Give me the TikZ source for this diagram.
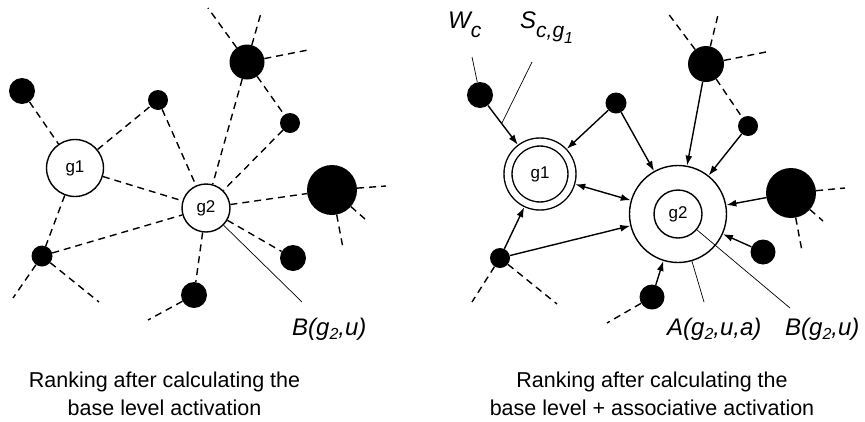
\documentclass[tikz,border=0pt]{standalone}
\usepackage{fontspec}
\setmainfont{Liberation Sans}
\usetikzlibrary{arrows.meta}
\newcommand{\lowsub}[3]{\raisebox{-#1pt}{\fontsize{#2}{#2}\selectfont #3}}
\tikzset{
    item-dot/.style = {circle, fill=black, inner sep=0pt, minimum size=#1},
    group-node/.style = {circle, draw, fill=white, line width=1.4pt, inner sep=0pt, minimum size=#1, font=\fontsize{17}{20}\selectfont},
    link/.style = {line width=1.4pt, dash pattern=on 7pt off 5pt},
    assoc/.style = {line width=1.4pt, -{Latex[length=10pt,width=7pt]}},
    pointer/.style = {line width=0.7pt},
    term/.style = {font=\fontsize{24}{28}\selectfont\itshape, inner sep=0pt, anchor=base west},
    panel-caption/.style = {font=\fontsize{21.5}{28}\selectfont, align=center, inner sep=0pt, anchor=base},
}

\begin{document}
\begin{tikzpicture}[x=1pt, y=-1pt]
\useasboundingbox (0,0) rectangle (865,421);

% base level activation
\node[group-node=57] (g1) at (75,168) {g1};
\node[group-node=48] (g2) at (206,208) {g2};
\node[item-dot=26] (a1) at (22,91) {};
\node[item-dot=20] (a2) at (158,100) {};
\node[item-dot=35] (a3) at (247,62) {};
\node[item-dot=20] (a4) at (290,123) {};
\node[item-dot=50] (a5) at (332,190) {};
\node[item-dot=26] (a6) at (293,258) {};
\node[item-dot=26] (a7) at (194,295) {};
\node[item-dot=21] (a8) at (42,256) {};
\coordinate (a3-1) at (208,8);
\coordinate (a3-2) at (261,13);
\coordinate (a3-3) at (308,50);
\coordinate (a5-1) at (386,186);
\coordinate (a5-2) at (365,219);
\coordinate (a5-3) at (343,248);
\coordinate (a7-1) at (148,320);
\coordinate (a8-1) at (13,298);
\coordinate (a8-2) at (99,302);
\foreach \s/\t in {a1/g1, g1/a2, a2/g2, a3/g2, a3/a4, a4/g2, g2/a5, g2/a6, g2/a7, g1/g2, g1/a8, a8/g2,
                   a3/a3-1, a3/a3-2, a3/a3-3, a5/a5-1, a5/a5-2, a5/a5-3, a7/a7-1, a8/a8-1, a8/a8-2}
    \draw[link] (\s) -- (\t);
\node[term] (b-left) at (292,335) {B(g\lowsub{4.5}{16}{2},u)};
\coordinate (b-left-tick) at (302,302);
\draw[pointer] (g2) -- (b-left-tick);
\node[panel-caption] (cap-left) at (164.5,415) {Ranking after calculating the\\base level activation};

% base level + associative activation
\node[group-node=64, double, double distance=6.6pt, outer sep=4.7pt] (h1) at (540,174) {g1};
\node[group-node=97] (h2-outer) at (678,214) {};
\node[group-node=48] (h2) at (h2-outer) {g2};
\node[item-dot=26] (b1) at (480,95) {};
\node[item-dot=21] (b2) at (616,103) {};
\node[item-dot=36] (b3) at (706,64) {};
\node[item-dot=20] (b4) at (748,126) {};
\node[item-dot=50] (b5) at (791,193) {};
\node[item-dot=25] (b6) at (763,252) {};
\node[item-dot=25] (b7) at (652,297) {};
\node[item-dot=20] (b8) at (500,258) {};
\coordinate (b3-1) at (667,12);
\coordinate (b3-2) at (718,15);
\coordinate (b3-3) at (766,52);
\coordinate (b5-1) at (845,188);
\coordinate (b5-2) at (823,221);
\coordinate (b5-3) at (802,251);
\coordinate (b7-1) at (607,323);
\coordinate (b8-1) at (472,302);
\coordinate (b8-2) at (557,304);
\foreach \s/\t in {b3/b4, b3/b3-1, b3/b3-2, b3/b3-3, b5/b5-1, b5/b5-2, b5/b5-3, b7/b7-1, b8/b8-1, b8/b8-2}
    \draw[link] (\s) -- (\t);
\foreach \s/\t in {b1/h1, b2/h1, b2/h2-outer, b3/h2-outer, b4/h2-outer, b5/h2-outer, b6/h2-outer, b7/h2-outer, b8/h1, b8/h2-outer}
    \draw[assoc] (\s) -- (\t);
\draw[assoc, {Latex[length=10pt,width=7pt]}-{Latex[length=10pt,width=7pt]}] (h1) -- (h2-outer);
\node[term] (w-label) at (448,28) {W\lowsub{9}{21}{c}};
\node[term] (s-label) at (520,28) {S\lowsub{9}{21}{c,g\lowsub{6}{16}{1}}};
\node[term] (a-label) at (667,335) {A(g\lowsub{4.5}{16}{2},u,a)};
\node[term] (b-right) at (785,335) {B(g\lowsub{4.5}{16}{2},u)};
\coordinate (w-tick) at (472,57);
\coordinate (s-tick) at (532,62);
\coordinate (a-tick) at (704,302);
\coordinate (b-right-tick) at (790,308);
\path (b1) -- coordinate[pos=0.46] (s-foot) (h1);
\draw[pointer] (b1) -- (w-tick);
\draw[pointer] (s-foot) -- (s-tick);
\draw[pointer] (h2-outer) -- (a-tick);
\draw[pointer] (h2) -- (b-right-tick);
\node[panel-caption] (cap-right) at (652,415) {Ranking after calculating the\\base level + associative activation};
\end{tikzpicture}
\end{document}
